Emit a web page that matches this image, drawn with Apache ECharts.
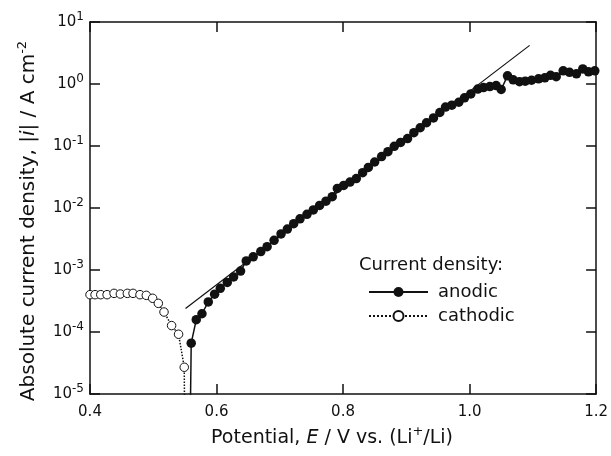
<!DOCTYPE html>
<html><head><meta charset="utf-8">
<script src="https://cdn.jsdelivr.net/npm/echarts@6/dist/echarts.min.js"></script>
<style>html,body{margin:0;padding:0;background:#fff}#c{width:611px;height:456px}</style>
</head><body><div id="c"></div>
<script>
// ---- data ----
// potential E / V vs. Li+/Li ; |i| / A cm^-2
const cathodicE = [0.400,0.408,0.417,0.427,0.438,0.448,0.459,0.468,0.479,0.489,0.499,0.508,0.517,0.529,0.540,0.549,0.5505];
const cathodicI = [4.0e-4,4.0e-4,4.0e-4,4.0e-4,4.2e-4,4.1e-4,4.2e-4,4.2e-4,4.0e-4,3.9e-4,3.5e-4,2.9e-4,2.1e-4,1.27e-4,9.2e-5,2.7e-5,1e-7];

const anodicE = [0.5565,0.560,0.568,0.577,0.587,0.597,0.606,0.617,0.627,0.638,0.647,0.658,0.670,0.680,0.691,0.702,0.712,
  0.722,0.732,0.743,0.753,0.763,0.773,0.783,0.791,0.801,0.811,0.821,0.831,0.840,0.850,0.861,0.871,0.881,0.891,
  0.902,0.912,0.922,0.932,0.943,0.953,0.962,0.972,0.983,0.992,1.002,1.013,1.022,1.032,1.042,1.050,1.060,1.069,
  1.079,1.088,1.098,1.109,1.119,1.128,1.137,1.148,1.158,1.169,1.179,1.188,1.198];
const anodicI = [1e-7,6.6e-5,1.58e-4,1.97e-4,3.05e-4,4.08e-4,5.07e-4,6.31e-4,7.71e-4,9.6e-4,1.40e-3,1.63e-3,1.98e-3,2.38e-3,3.01e-3,3.82e-3,4.58e-3,
  5.58e-3,6.70e-3,7.91e-3,9.31e-3,1.10e-2,1.29e-2,1.52e-2,2.07e-2,2.31e-2,2.62e-2,2.98e-2,3.71e-2,4.52e-2,5.52e-2,6.75e-2,8.09e-2,9.89e-2,0.114,
  0.132,0.164,0.197,0.237,0.284,0.347,0.424,0.455,0.508,0.598,0.692,0.830,0.875,0.908,0.942,0.815,1.355,1.17,
  1.09,1.11,1.15,1.21,1.26,1.38,1.31,1.63,1.54,1.46,1.75,1.57,1.63];

const tangentE = [0.551, 1.095];
const tangentI = [2.4e-4, 4.2];

const xTicks = [0.4, 0.6, 0.8, 1.0, 1.2];
const yTickExponents = [-5, -4, -3, -2, -1, 0, 1];
const seriesNames = ['anodic', 'cathodic'];
const legendTitle = 'Current density:';
// ------------------------------------------

const FONT = 'DejaVu Sans';
const yMin = Math.pow(10, yTickExponents[0]);
const yMax = Math.pow(10, yTickExponents[yTickExponents.length - 1]);
const zip = (a, b) => a.map((v, i) => [v, b[i]]);
const yVals = yTickExponents.map(e => Math.pow(10, e));

const supRich = {
  b: { fontSize: 15, fontFamily: FONT, color: '#111', lineHeight: 22 },
  s: { fontSize: 12, fontFamily: FONT, color: '#111', lineHeight: 12, verticalAlign: 'top' }
};
const axisLineStyle = { color: '#111', width: 1.5 };

const chart = echarts.init(document.getElementById('c'), null, { renderer: 'canvas' });
chart.setOption({
  animation: false,
  backgroundColor: '#fff',
  textStyle: { fontFamily: FONT },
  grid: { left: 90, right: 13, top: 22, bottom: 54 },
  title: {
    text: legendTitle, left: 359, top: 256, padding: 0,
    textStyle: { fontFamily: FONT, fontSize: 18, fontWeight: 'normal', color: '#111', lineHeight: 18 }
  },
  legend: {
    data: seriesNames, orient: 'vertical', left: 363, top: 277,
    itemWidth: 59, itemHeight: 12.5, itemGap: 4,
    textStyle: { fontFamily: FONT, fontSize: 18, color: '#111', lineHeight: 20, padding: [0, 0, 0, 5] }
  },
  xAxis: [{
    type: 'value', min: xTicks[0], max: xTicks[xTicks.length - 1], interval: 0.2,
    axisLine: { lineStyle: axisLineStyle },
    axisTick: { inside: true, length: 10, lineStyle: axisLineStyle, customValues: xTicks },
    axisLabel: { fontSize: 15, color: '#111', margin: 11, fontFamily: FONT, customValues: xTicks,
      formatter: v => v.toFixed(1), showMinLabel: true, showMaxLabel: true },
    splitLine: { show: false },
    name: 'Potential, {i|E} / V vs. (Li{s|+}/Li)',
    nameLocation: 'middle', nameGap: 31,
    nameTextStyle: { fontFamily: FONT, fontSize: 19, color: '#111', lineHeight: 26, padding: [0, 22, 0, 0],
      rich: { i: { fontStyle: 'italic', fontSize: 19, fontFamily: FONT, color: '#111', lineHeight: 26 },
              s: { fontSize: 13, fontFamily: FONT, color: '#111', lineHeight: 13, verticalAlign: 'top' } } }
  }, {
    type: 'value', position: 'top', min: xTicks[0], max: xTicks[xTicks.length - 1], interval: 0.2,
    axisLine: { lineStyle: axisLineStyle },
    axisTick: { inside: true, length: 10, lineStyle: axisLineStyle, customValues: xTicks },
    axisLabel: { show: false }, splitLine: { show: false }
  }],
  yAxis: [{
    type: 'log', logBase: 10, min: yMin, max: yMax,
    axisLine: { lineStyle: axisLineStyle },
    axisTick: { inside: true, length: 10, lineStyle: axisLineStyle, customValues: yVals },
    axisLabel: { margin: 6, customValues: yVals, rich: supRich,
      formatter: v => { const e = Math.round(Math.log10(v)); return '{b|10}{s|' + (e < 0 ? '-' : '') + Math.abs(e) + '}'; } },
    minorTick: { show: false },
    splitLine: { show: false },
    name: 'Absolute current density, |{i|i}| / A cm{s|-2}',
    nameLocation: 'middle', nameGap: 47,
    nameTextStyle: { fontFamily: FONT, fontSize: 20, color: '#111', lineHeight: 26, padding: [0, 26, 0, 0],
      rich: { i: { fontStyle: 'italic', fontSize: 20, fontFamily: FONT, color: '#111', lineHeight: 26 },
              s: { fontSize: 13, fontFamily: FONT, color: '#111', lineHeight: 13, verticalAlign: 'top' } } }
  }, {
    type: 'log', logBase: 10, min: yMin, max: yMax, position: 'right',
    axisLine: { lineStyle: axisLineStyle },
    axisTick: { inside: true, length: 10, lineStyle: axisLineStyle, customValues: yVals },
    axisLabel: { show: false }, splitLine: { show: false }
  }],
  series: [
    {
      name: 'tangent', type: 'line', data: zip(tangentE, tangentI), symbol: 'none', silent: true,
      lineStyle: { color: '#111', width: 1.2 }, z: 1
    },
    {
      name: seriesNames[1], type: 'line', data: zip(cathodicE, cathodicI), clip: true,
      symbol: 'circle', symbolSize: v => (v[1] < yMin ? 0 : 8.5),
      itemStyle: { color: '#fff', borderColor: '#111', borderWidth: 1 },
      lineStyle: { color: '#111', width: 1.5, type: 'dotted' }, z: 2
    },
    {
      name: seriesNames[0], type: 'line', data: zip(anodicE, anodicI), clip: true,
      symbol: 'circle', symbolSize: v => (v[1] < yMin ? 0 : 9.5),
      itemStyle: { color: '#111', borderColor: '#111', borderWidth: 0 },
      lineStyle: { color: '#111', width: 1.5 }, z: 3
    }
  ]
});
</script>
</body></html>
